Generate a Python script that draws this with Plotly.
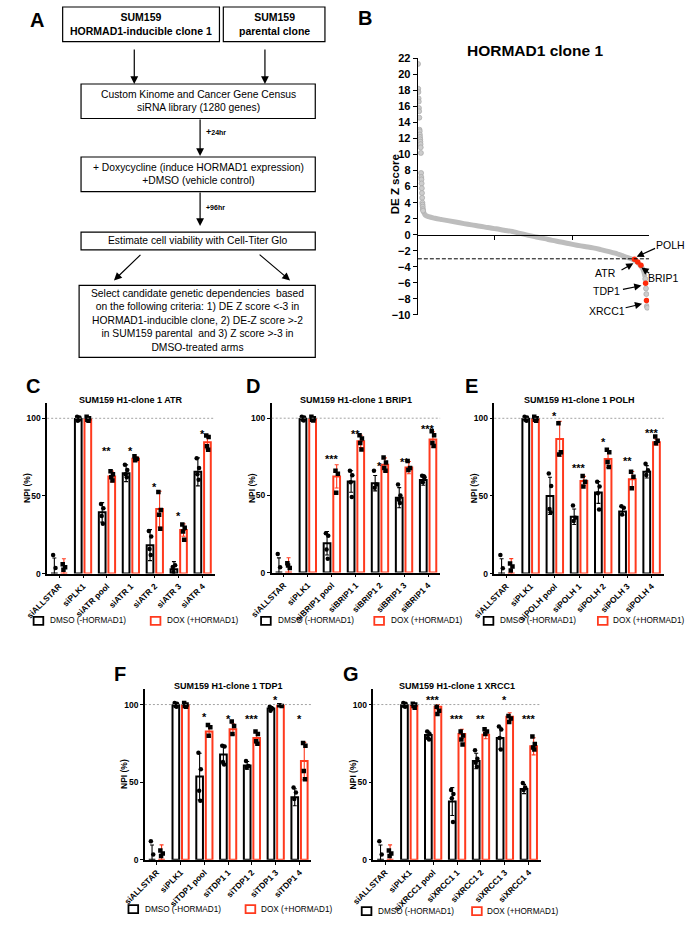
import plotly.graph_objects as go

W, H = 685, 925
FONT = "Arial, 'Liberation Sans', Helvetica, sans-serif"
RED = "#FF3A1E"

def fx(x):
    return x / W

def fy(y):
    return 1 - y / H

# ---------------- Panel B data (DE Z score, genes ranked) ----------------
b_top_rank = list(range(1, 30))
b_top_z = [21.3, 18.2, 17.8, 17.0, 16.6, 15.8, 15.4, 14.6, 13.1, 12.9, 12.5, 12.2,
           11.9, 11.6, 11.3, 10.9, 10.2, 7.7, 7.2, 6.9, 6.4, 5.8, 5.2, 4.6, 4.0,
           3.75, 3.5, 3.2, 3.0]
b_curve_rank = [30, 35, 41, 60, 95, 130, 167, 210, 257, 300, 347, 390, 437, 480, 527,
                563, 617, 660, 707, 750, 797, 840, 887, 930, 977, 1020, 1067, 1100,
                1121, 1140, 1157, 1175, 1193, 1208, 1220, 1230, 1238, 1246, 1253,
                1258, 1262, 1266]
b_curve_z = [2.9, 2.7, 2.45, 2.25, 2.05, 1.9, 1.76, 1.58, 1.39, 1.23, 1.07, 0.9, 0.74,
             0.57, 0.41, 0.2, -0.08, -0.28, -0.49, -0.7, -0.9, -1.1, -1.3, -1.47,
             -1.64, -1.85, -2.1, -2.3, -2.46, -2.6, -2.75, -2.88, -3.03, -3.2, -3.36,
             -3.55, -3.77, -4.0, -4.2, -4.5, -4.8, -5.2]
b_tail_rank = [1268, 1272, 1274, 1277, 1279]
b_tail_z = [-5.5, -6.7, -7.4, -8.9, -9.1]
b_hit_gene = ["POLH", "ATR", "BRIP1", "TDP1", "XRCC1"]
b_hit_rank = [1208, 1226, 1244, 1270, 1275]
b_hit_z = [-3.06, -3.39, -3.8, -6.04, -8.2]
b_threshold = -3

# ---------------- Panel C: ATR ----------------
c_cats = ["siALLSTAR", "siPLK1", "siATR pool", "siATR 1", "siATR 2", "siATR 3", "siATR 4"]
c_dmso_mean = [0, 99.5, 39.4, 64.6, 18.3, 2.7, 65.5]
c_dmso_sd = [10, 1, 6.3, 5.4, 10, 5, 9]
c_dox_mean = [0, 99.5, 62.5, 73.9, 41.5, 28, 84.6]
c_dox_sd = [9.5, 1, 3.5, 1.5, 11.5, 4, 4.5]
c_dmso_pts = [[12, 3.5], [101, 100.5, 98.5, 99], [44.8, 42, 37, 32], [70, 66.7, 64, 62],
              [27.4, 23.8, 15.8, 12], [4.2, 5.3, 1], [74.3, 68, 64, 60.4]]
c_dox_pts = [[6, 4, 2.5], [101, 100, 99, 98.5], [65.9, 64, 62, 60], [75.6, 74, 73],
             [52.6, 41, 37.9, 28.8], [31.6, 29.5, 27, 21.7], [89, 88, 82, 79.8]]
c_stars = ["", "", "**", "*", "*", "*", "*"]
c_star_y = [0, 0, 80.6, 81, 58, 39, 92]

# ---------------- Panel D: BRIP1 ----------------
d_cats = ["siALLSTAR", "siPLK1", "siBRIP1 pool", "siBRIP1 1", "siBRIP1 2", "siBRIP1 3", "siBRIP1 4"]
d_dmso_mean = [0, 99.5, 19, 59, 57.9, 48.5, 60]
d_dmso_sd = [9.5, 1, 7.6, 7, 5, 6.5, 3.4]
d_dox_mean = [0, 99.5, 62.3, 85, 69.8, 68, 86.2]
d_dox_sd = [9.6, 1, 7.5, 4, 4.5, 4, 5]
d_dmso_pts = [[12, 3.4], [101, 100.5, 99, 98.5], [25.5, 23.8, 14.9, 8.9], [66, 63, 58.5, 49],
              [66, 57, 55], [57, 50, 47.2, 45], [62.8, 61.7, 58.5, 62]]
d_dox_pts = [[6, 3, 4.5], [101, 100, 99, 98.5], [66, 64, 51.7], [89, 86.8, 84, 79.8],
             [74.5, 71.3, 67.7, 66], [72.3, 67.7, 66.4], [91.5, 89, 84, 82]]
d_stars = ["", "", "***", "**", "*", "**", "***"]
d_star_y = [0, 0, 75.5, 92, 71, 73.4, 94.7]

# ---------------- Panel E: POLH ----------------
e_cats = ["siALLSTAR", "siPLK1", "siPOLH pool", "siPOLH 1", "siPOLH 2", "siPOLH 3", "siPOLH 4"]
e_dmso_mean = [0, 99.5, 50, 36.6, 52.2, 40, 65.5]
e_dmso_sd = [9.5, 1, 12, 5, 7, 2.5, 4]
e_dox_mean = [0, 99.5, 86.7, 59.6, 73.8, 60.7, 84.6]
e_dox_sd = [9.6, 1, 11.3, 3, 5.5, 5, 2]
e_dmso_pts = [[12, 3.4], [101, 100.5, 99, 98.5], [64.5, 56.4, 41.6, 39.5], [43.8, 36, 33.8],
              [59.2, 56, 51.8, 41.2], [43.3, 42.3, 38], [70.8, 66.6, 63.4]]
e_dox_pts = [[6.5, 4.5, 2], [101, 100, 99, 98.5], [96.8, 78.2, 76.7], [62.8, 59.2, 56],
             [79.7, 78.2, 71.9, 68.7], [65.5, 62.4, 55], [88.2, 85.6, 83.9]]
e_stars = ["", "", "*", "***", "*", "**", "***"]
e_star_y = [0, 0, 103.6, 69.8, 86.7, 74.4, 92.4]

# ---------------- Panel F: TDP1 ----------------
f_cats = ["siALLSTAR", "siPLK1", "siTDP1 pool", "siTDP1 1", "siTDP1 2", "siTDP1 3", "siTDP1 4"]
f_dmso_mean = [0, 99.5, 53.6, 67.8, 60.8, 97.5, 40.3]
f_dmso_sd = [9.5, 1, 15, 6, 2.5, 1.2, 5.5]
f_dox_mean = [0, 99.5, 82.6, 84.1, 78.4, 99.2, 63.6]
f_dox_sd = [9.6, 1, 3.5, 3.5, 3.5, 0.5, 12]
f_dmso_pts = [[12, 3.4], [101, 100.5, 99, 98.5], [68.9, 58.3, 44.5, 38], [73.5, 73, 63, 61.4],
              [63.6, 60.4, 59.3], [98.5, 97.5, 96], [46.6, 43.4, 39.2]]
f_dox_pts = [[6, 4, 2.5], [101, 100, 99, 98.5], [86.9, 85.4, 79.9], [89, 86.2, 81],
             [82.6, 81.1, 76.3, 74.8], [99.5, 99], [75.2, 73.5, 57.2, 51.9]]
f_stars = ["", "", "*", "*", "***", "*", "*"]
f_star_y = [0, 0, 93.9, 92.6, 92.6, 104.9, 92.6]

# ---------------- Panel G: XRCC1 ----------------
g_cats = ["siALLSTAR", "siPLK1", "siXRCC1 pool", "siXRCC1 1", "siXRCC1 2", "siXRCC1 3", "siXRCC1 4"]
g_dmso_mean = [0, 99.5, 80.3, 37.5, 63.6, 78.4, 45.6]
g_dmso_sd = [9.5, 1, 2.5, 9, 5, 7, 3]
g_dox_mean = [0, 99, 98.5, 81.1, 80.5, 92.2, 73.1]
g_dox_sd = [9.6, 1, 1.5, 3, 2.5, 2.5, 5.5]
g_dmso_pts = [[12, 3.4], [101, 100.5, 99, 98.5], [82.6, 81, 78.4, 77.5], [45, 42.4, 39.6, 24.4],
              [70.6, 65, 62.5, 60], [85.8, 84, 78.4, 71], [49.4, 46.6, 45]]
g_dox_pts = [[6, 4, 2.5], [100.5, 100, 99, 98], [98.5, 96, 93.9], [82.6, 80, 77.5, 74.2],
             [84.1, 82.6, 81.1], [92.6, 91, 88.8], [79.4, 74.6, 72.3, 71]]
g_stars = ["", "", "***", "***", "**", "*", "***"]
g_star_y = [0, 0, 104.9, 92.6, 92.6, 104.9, 92.6]

legend_labels = ["DMSO (-HORMAD1)", "DOX (+HORMAD1)"]

fig = go.Figure()
shapes = []
annotations = []
layout_axes = {}


def font(size, bold=False, color="black"):
    d = dict(family=FONT, size=size, color=color)
    if bold:
        d["weight"] = "bold"
    return d


def ann(text, x, y, size, bold=False, xanchor="center", yanchor="middle", angle=0):
    annotations.append(dict(text=text, x=fx(x), y=fy(y), xref="paper", yref="paper",
                            showarrow=False, xanchor=xanchor, yanchor=yanchor,
                            textangle=angle, font=font(size, bold)))


def rect(x0, y0, x1, y1, color="black", width=1.2, fill="rgba(0,0,0,0)"):
    shapes.append(dict(type="rect", xref="paper", yref="paper", x0=fx(x0), x1=fx(x1),
                       y0=fy(y1), y1=fy(y0), line=dict(color=color, width=width),
                       fillcolor=fill))


def arrow(xt, yt, xh, yh, width=1.2, size=1.3):
    annotations.append(dict(text="", x=fx(xh), y=fy(yh), xref="paper", yref="paper",
                            ax=xt - xh, ay=yt - yh, showarrow=True, arrowhead=2,
                            arrowsize=size, arrowwidth=width, arrowcolor="black",
                            standoff=0, startstandoff=0))


# ---------------- Panel A: flowchart ----------------
ann("A", 15, 14, 20, bold=True)
rect(42, 1, 204, 36)
ann("SUM159<br>HORMAD1-inducible clone 1", 123, 18.5, 10.5, bold=True)
rect(208, 1, 313, 36)
ann("SUM159<br>parental clone", 260.5, 18.5, 10.5, bold=True)
arrow(116, 43, 116, 79)
arrow(251, 43, 251, 79)
rect(61, 79, 303, 114)
ann("Custom Kinome and Cancer Gene Census<br>siRNA library (1280 genes)", 182, 96.5, 10.3)
arrow(184, 114, 184, 152)
ann("+<span style='font-size:7px'>24hr</span>", 188, 128, 9, bold=True, xanchor="left")
rect(61, 153, 303, 188)
ann("+ Doxycycline (induce HORMAD1 expression)<br>+DMSO (vehicle control)", 182, 170.5, 10.3)
arrow(184, 188, 184, 223)
ann("+<span style='font-size:7px'>96hr</span>", 188, 204, 7, bold=True, xanchor="left")
rect(61, 229, 303, 247)
ann("Estimate cell viability with Cell-Titer Glo", 182, 238, 10.3)
arrow(123, 251, 95, 278)
arrow(245, 251, 277, 278)
rect(59, 283, 303, 356)
ann("Select candidate genetic dependencies  based<br>on the following criteria: 1) DE Z score &lt;-3 in"
    "<br>HORMAD1-inducible clone, 2) DE-Z score &gt;-2<br>in SUM159 parental  and 3) Z score &gt;-3 in"
    "<br>DMSO-treated arms", 181, 319, 10.3)

# ---------------- Panel B: ranked scatter ----------------
bx0, bx1, by0, by1 = 409, 648, 53, 313
b_yrange = [-10, 22]
ydom = [fy(by1), fy(by0)]
zero_pos = ydom[0] + (0 - b_yrange[0]) / (b_yrange[1] - b_yrange[0]) * (ydom[1] - ydom[0])
fig.add_trace(go.Scatter(x=b_curve_rank, y=b_curve_z, mode="lines",
                         line=dict(color="#BDBDBD", width=5, shape="spline"),
                         xaxis="x", yaxis="y", showlegend=False, hoverinfo="skip"))
fig.add_trace(go.Scatter(x=b_top_rank + b_tail_rank, y=b_top_z + b_tail_z, mode="markers",
                         marker=dict(size=5, color="#CDCDCD", line=dict(color="#A8A8A8", width=0.7)),
                         xaxis="x", yaxis="y", showlegend=False))
fig.add_trace(go.Scatter(x=b_hit_rank, y=b_hit_z, mode="markers", text=b_hit_gene,
                         marker=dict(size=5.5, color="#FF2A0A"),
                         xaxis="x", yaxis="y", showlegend=False))
layout_axes["xaxis"] = dict(domain=[fx(bx0), fx(bx1)], range=[0, 1290], anchor="free",
                            position=zero_pos, showline=True, linecolor="black", linewidth=1.3,
                            ticks="outside", tickvals=[430, 860], ticklen=4, tickwidth=1.2,
                            tickcolor="black", showticklabels=False, showgrid=False, zeroline=False)
layout_axes["yaxis"] = dict(domain=ydom, range=b_yrange, dtick=2, anchor="x", showline=True,
                            linecolor="black", linewidth=1.3, ticks="outside", ticklen=4,
                            tickwidth=1.2, tickcolor="black", tickfont=font(11, True),
                            showgrid=False, zeroline=False)
shapes.append(dict(type="line", xref="x", yref="y", x0=0, x1=1290, y0=b_threshold,
                   y1=b_threshold, line=dict(color="black", width=1, dash="4px,2px")))
ann("B", 354, 12, 20, bold=True)
ann("HORMAD1 clone 1", 530, 45, 15.5, bold=True)
ann("DE Z score", 385, 181, 11.5, bold=True, angle=-90)
b_label_pos = {"POLH": (670, 241.7), "ATR": (603, 270.7), "BRIP1": (663, 276),
               "TDP1": (603.5, 289), "XRCC1": (604.5, 309)}
b_arrow_pos = {"POLH": (655, 245, 635, 254), "ATR": (618.3, 268.3, 631.7, 260.7),
               "BRIP1": (649.3, 271.7, 640, 265), "TDP1": (620, 287.3, 640, 283.3),
               "XRCC1": (622.7, 306, 640.7, 301.7)}
for g in b_hit_gene:
    lx, ly = b_label_pos[g]
    ann(g, lx, ly, 10.5)
    arrow(*b_arrow_pos[g], width=1.2, size=1.2)

# ---------------- Panels C-G: bar charts ----------------
panels = [
    dict(letter="C", title="SUM159 H1-clone 1 ATR", box=(26, 199, 402, 575), lab=(11, 385),
         leg=(12, 27, 133, 148, 623), cats=c_cats, dm=c_dmso_mean, ds=c_dmso_sd, xm=c_dox_mean,
         xs=c_dox_sd, dp=c_dmso_pts, xp=c_dox_pts, st=c_stars, sy=c_star_y),
    dict(letter="D", title="SUM159 H1-clone 1 BRIP1", box=(258, 432, 402, 574), lab=(239, 385),
         leg=(247, 262, 364, 379, 623), cats=d_cats, dm=d_dmso_mean, ds=d_dmso_sd, xm=d_dox_mean,
         xs=d_dox_sd, dp=d_dmso_pts, xp=d_dox_pts, st=d_stars, sy=d_star_y),
    dict(letter="E", title="SUM159 H1-clone 1 POLH", box=(488, 663, 402, 575), lab=(464, 385),
         leg=(477, 492, 595, 609, 623), cats=e_cats, dm=e_dmso_mean, ds=e_dmso_sd, xm=e_dox_mean,
         xs=e_dox_sd, dp=e_dmso_pts, xp=e_dox_pts, st=e_stars, sy=e_star_y),
    dict(letter="F", title="SUM159 H1-clone 1 TDP1", box=(127, 299, 692, 865), lab=(101, 677),
         leg=(110, 125, 231, 245, 915), cats=f_cats, dm=f_dmso_mean, ds=f_dmso_sd, xm=f_dox_mean,
         xs=f_dox_sd, dp=f_dmso_pts, xp=f_dox_pts, st=f_stars, sy=f_star_y),
    dict(letter="G", title="SUM159 H1-clone 1 XRCC1", box=(363, 536, 692, 865), lab=(340, 677),
         leg=(351, 366, 465, 478, 917), cats=g_cats, dm=g_dmso_mean, ds=g_dmso_sd, xm=g_dox_mean,
         xs=g_dox_sd, dp=g_dmso_pts, xp=g_dox_pts, st=g_stars, sy=g_star_y),
]

BW = 0.28      # bar width (category units)
OFF = 0.2      # half distance between paired bars
JIT = [-0.05, 0.05, -0.02, 0.03, 0.0]

for k, p in enumerate(panels, start=2):
    xa, ya = f"x{k}", f"y{k}"
    x0, x1, y0, y1 = p["box"]
    idx = list(range(len(p["cats"])))
    for side, means, sds, pts, col, sym in ((-1, p["dm"], p["ds"], p["dp"], "black", "circle"),
                                           (1, p["xm"], p["xs"], p["xp"], RED, "square")):
        fig.add_trace(go.Bar(x=idx, y=means, width=BW, offset=side * OFF - BW / 2,
                             marker=dict(color="white", line=dict(color=col, width=2)),
                             error_y=dict(type="data", array=sds, color=col, thickness=1.1, width=2),
                             xaxis=xa, yaxis=ya, showlegend=False))
        px_, py_ = [], []
        for i, vals in enumerate(pts):
            for j, v in enumerate(vals):
                px_.append(i + side * OFF + JIT[j % len(JIT)])
                py_.append(v)
        fig.add_trace(go.Scatter(x=px_, y=py_, mode="markers",
                                 marker=dict(size=4.5, color="black", symbol=sym),
                                 xaxis=xa, yaxis=ya, showlegend=False))
    layout_axes[f"xaxis{k}"] = dict(domain=[fx(x0), fx(x1)], anchor=ya, range=[-0.5, 6.5],
                                    tickvals=idx, ticktext=p["cats"], tickangle=-45,
                                    showline=True, linecolor="black", linewidth=1.5,
                                    ticks="outside", ticklen=3, tickwidth=1.2, tickcolor="black",
                                    tickfont=font(8.3, True), showgrid=False, zeroline=False)
    layout_axes[f"yaxis{k}"] = dict(domain=[fy(y1), fy(y0)], anchor=xa, range=[0, 110],
                                    tickvals=[0, 50, 100], showline=True, linecolor="black",
                                    linewidth=1.5, ticks="outside", ticklen=3, tickwidth=1.2,
                                    tickcolor="black", tickfont=font(8.5, True),
                                    showgrid=False, zeroline=False)
    shapes.append(dict(type="line", xref=f"{xa} domain", yref=ya, x0=0, x1=1, y0=100, y1=100,
                       line=dict(color="#8C8C8C", width=0.8, dash="2px,2px")))
    for i, (s, sy) in enumerate(zip(p["st"], p["sy"])):
        if s:
            annotations.append(dict(text=s, x=i, y=sy, xref=xa, yref=ya, showarrow=False,
                                    xanchor="center", yanchor="middle", yshift=-3,
                                    font=font(11, True)))
    ann(p["letter"], p["lab"][0], p["lab"][1], 20, bold=True)
    ann(p["title"], (x0 + x1) / 2, y0 - 3, 9, bold=True)
    ann("NPI (%)", x0 - 21, (y0 + y1) / 2, 8.5, bold=True, angle=-90)
    bsq, btx, rsq, rtx, ly = p["leg"]
    rect(bsq, ly - 4, bsq + 10, ly + 4, color="black", width=1.8, fill="white")
    ann(legend_labels[0], btx, ly, 8.2, xanchor="left")
    rect(rsq, ly - 4, rsq + 10, ly + 4, color=RED, width=1.8, fill="white")
    ann(legend_labels[1], rtx, ly, 8.2, xanchor="left")

fig.update_layout(width=W, height=H, margin=dict(l=0, r=0, t=0, b=0),
                  paper_bgcolor="white", plot_bgcolor="white", barmode="overlay",
                  showlegend=False, shapes=shapes, annotations=annotations,
                  font=dict(family=FONT, color="black"), **layout_axes)

fig.write_html("out.html", config={"displayModeBar": False},
               post_script="document.body.style.margin='0';document.body.style.padding='0';")
